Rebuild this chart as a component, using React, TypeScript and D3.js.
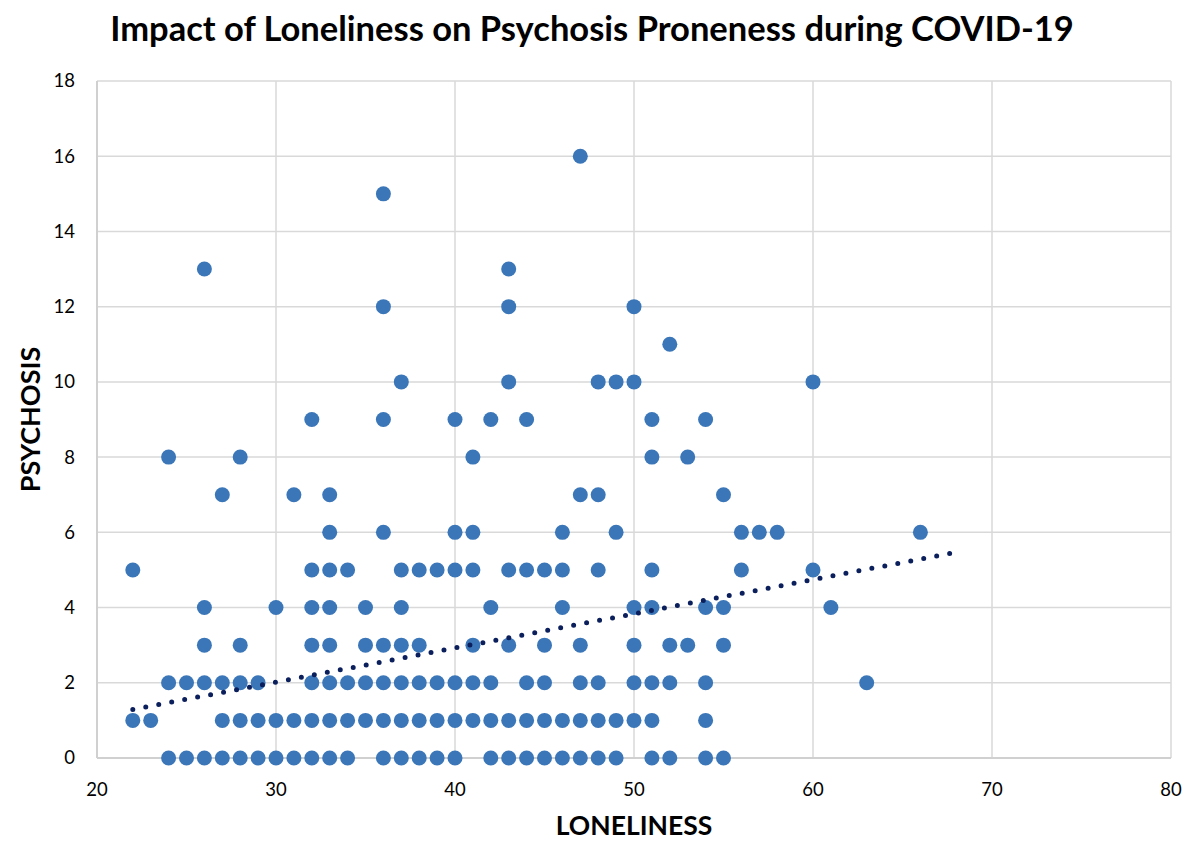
import React from "react";
import * as d3 from "d3";

// Loneliness (x) values grouped by psychosis score (y)
const psychosisLevels = [0, 1, 2, 3, 4, 5, 6, 7, 8, 9, 10, 11, 12, 13, 15, 16];
const lonelinessAt0 = [24, 25, 26, 27, 28, 29, 30, 31, 32, 33, 34, 36, 37, 38, 39, 40, 42, 43, 44, 45, 46, 47, 48, 49, 51, 52, 54, 55];
const lonelinessAt1 = [22, 23, 27, 28, 29, 30, 31, 32, 33, 34, 35, 36, 37, 38, 39, 40, 41, 42, 43, 44, 45, 46, 47, 48, 49, 50, 51, 54];
const lonelinessAt2 = [24, 25, 26, 27, 28, 29, 32, 33, 34, 35, 36, 37, 38, 39, 40, 41, 42, 44, 45, 47, 48, 50, 51, 52, 54, 63];
const lonelinessAt3 = [26, 28, 32, 33, 35, 36, 37, 38, 41, 43, 45, 47, 50, 52, 53, 55];
const lonelinessAt4 = [26, 30, 32, 33, 35, 37, 42, 46, 50, 51, 54, 55, 61];
const lonelinessAt5 = [22, 32, 33, 34, 37, 38, 39, 40, 41, 43, 44, 45, 46, 48, 51, 56, 60];
const lonelinessAt6 = [33, 36, 40, 41, 46, 49, 56, 57, 58, 66];
const lonelinessAt7 = [27, 31, 33, 47, 48, 55];
const lonelinessAt8 = [24, 28, 41, 51, 53];
const lonelinessAt9 = [32, 36, 40, 42, 44, 51, 54];
const lonelinessAt10 = [37, 43, 48, 49, 50, 60];
const lonelinessAt11 = [52];
const lonelinessAt12 = [36, 43, 50];
const lonelinessAt13 = [26, 43];
const lonelinessAt15 = [36];
const lonelinessAt16 = [47];

const lonelinessGroups = [
  lonelinessAt0, lonelinessAt1, lonelinessAt2, lonelinessAt3, lonelinessAt4,
  lonelinessAt5, lonelinessAt6, lonelinessAt7, lonelinessAt8, lonelinessAt9,
  lonelinessAt10, lonelinessAt11, lonelinessAt12, lonelinessAt13, lonelinessAt15,
  lonelinessAt16,
];

// Linear trendline endpoints [loneliness, psychosis]
const trendStart: [number, number] = [22, 1.29];
const trendEnd: [number, number] = [68, 5.47];

const xTicks = [20, 30, 40, 50, 60, 70, 80];
const yTicks = [0, 2, 4, 6, 8, 10, 12, 14, 16, 18];

const title = "Impact of Loneliness on Psychosis Proneness during COVID-19";
const xTitle = "LONELINESS";
const yTitle = "PSYCHOSIS";

const W = 1189;
const H = 843;
const margin = { left: 97, right: 18, top: 81, bottom: 85 };

export default function App() {
  const x = d3.scaleLinear().domain([20, 80]).range([margin.left, W - margin.right]);
  const y = d3.scaleLinear().domain([0, 18]).range([H - margin.bottom, margin.top]);

  const points: { x: number; y: number }[] = [];
  lonelinessGroups.forEach((g, i) => {
    g.forEach((v) => points.push({ x: v, y: psychosisLevels[i] }));
  });

  const line = d3
    .line<[number, number]>()
    .x((d) => x(d[0]))
    .y((d) => y(d[1]));

  const font = "Lato, 'Open Sans', sans-serif";
  const gridColor = "#D9D9D9";

  return (
    <svg
      width={W}
      height={H}
      style={{ position: "absolute", left: 0, top: 0, background: "#fff" }}
    >
      <text
        x={592}
        y={41}
        textAnchor="middle"
        fontFamily={font}
        fontWeight={700}
        fontSize={34.5}
        fill="#000"
      >
        {title}
      </text>

      {yTicks.map((t) => (
        <line
          key={"gy" + t}
          x1={x(20)}
          x2={x(80)}
          y1={y(t)}
          y2={y(t)}
          stroke={gridColor}
          strokeWidth={1.5}
        />
      ))}
      {xTicks.map((t) => (
        <line
          key={"gx" + t}
          x1={x(t)}
          x2={x(t)}
          y1={y(0)}
          y2={y(18)}
          stroke={gridColor}
          strokeWidth={1.5}
        />
      ))}
      <line x1={x(20)} x2={x(80)} y1={y(0)} y2={y(0)} stroke="#D0D0D0" strokeWidth={2} />
      <line x1={x(20)} x2={x(20)} y1={y(0)} y2={y(18)} stroke="#D0D0D0" strokeWidth={2} />

      {yTicks.map((t) => (
        <text
          key={"ty" + t}
          x={x(20) - 22}
          y={y(t)}
          dy="0.35em"
          textAnchor="end"
          fontFamily={font}
          fontSize={18.5}
          fill="#000"
        >
          {t}
        </text>
      ))}
      {xTicks.map((t) => (
        <text
          key={"tx" + t}
          x={x(t)}
          y={y(0) + 32}
          dy="0.35em"
          textAnchor="middle"
          fontFamily={font}
          fontSize={18.5}
          fill="#000"
        >
          {t}
        </text>
      ))}

      {points.map((p, i) => (
        <circle key={i} cx={x(p.x)} cy={y(p.y)} r={7.5} fill="#3A76B8" />
      ))}

      <path
        d={line([trendStart, trendEnd]) || ""}
        fill="none"
        stroke="#0B1F5C"
        strokeWidth={5}
        strokeLinecap="round"
        strokeDasharray="0 13.2"
      />

      <text
        x={(x(20) + x(80)) / 2}
        y={835}
        textAnchor="middle"
        fontFamily={font}
        fontWeight={700}
        fontSize={26.5}
        fill="#000"
      >
        {xTitle}
      </text>
      <text
        transform={`translate(${40},${(y(0) + y(18)) / 2}) rotate(-90)`}
        textAnchor="middle"
        fontFamily={font}
        fontWeight={700}
        fontSize={27}
        fill="#000"
      >
        {yTitle}
      </text>
    </svg>
  );
}
